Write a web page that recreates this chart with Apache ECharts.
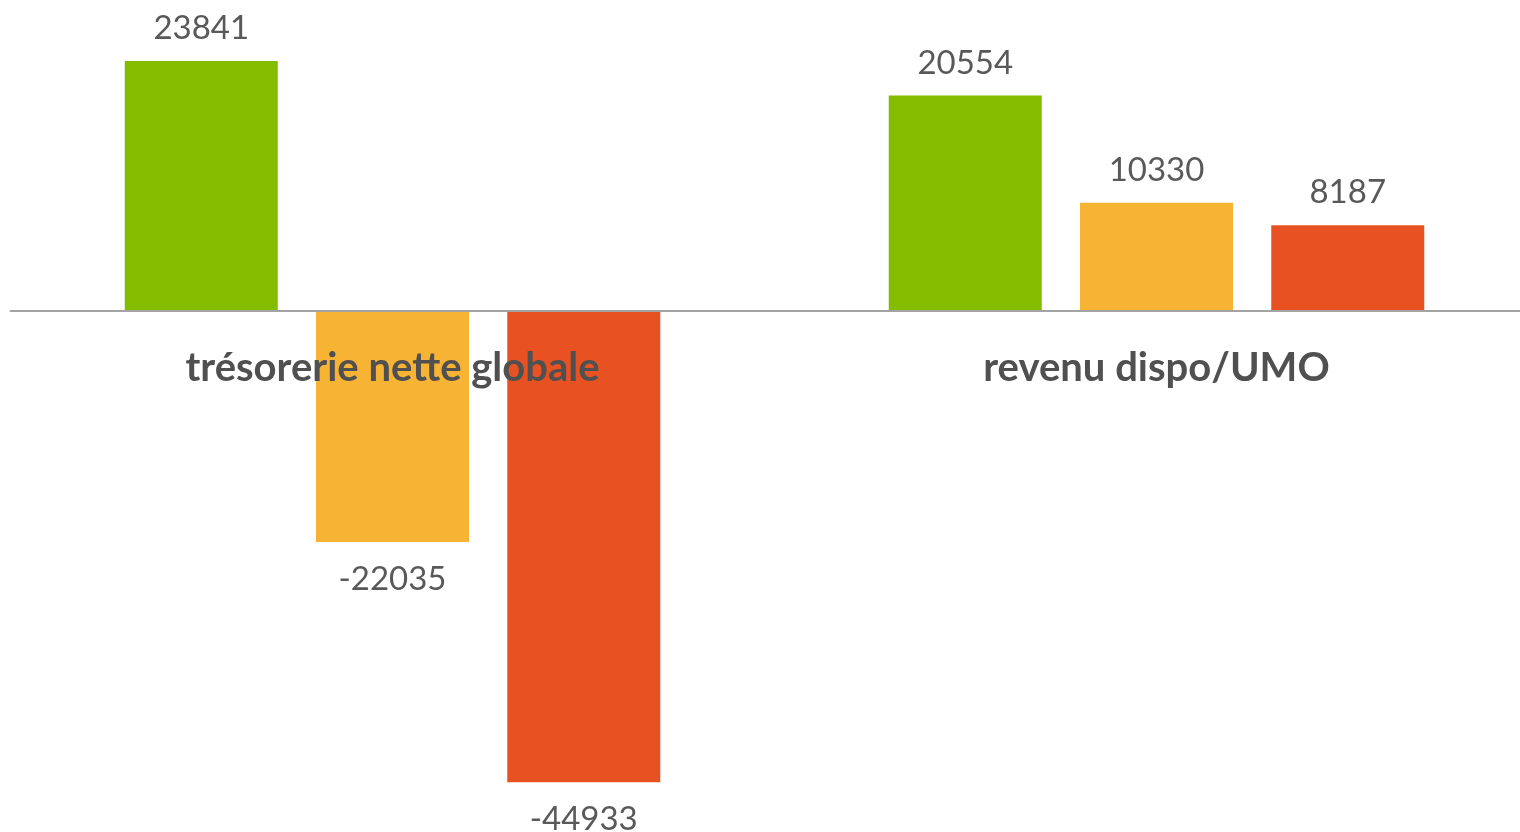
<!DOCTYPE html>
<html>
<head>
<meta charset="utf-8">
<script src="https://cdn.jsdelivr.net/npm/echarts@6/dist/echarts.min.js"></script>
<style>
  html, body { margin: 0; padding: 0; background: #fff; }
  #chart { width: 1520px; height: 832px; }
</style>
</head>
<body>
<div id="chart"></div>
<script>
// categories and values
const categories = ['trésorerie nette globale', 'revenu dispo/UMO'];
const serieA = [23841, 20554];
const serieB = [-22035, 10330];
const serieC = [-44933, 8187];
const colors = ['#84BD00', '#F7B334', '#E85223'];

const chart = echarts.init(document.getElementById('chart'));

// negative values get their label under the bar
const mkData = (vals) => vals.map(v => ({
    value: v,
    label: v < 0 ? { position: 'bottom', distance: 21 } : { position: 'top', distance: 16 }
}));

const mkSeries = (vals, i) => ({
    type: 'bar',
    data: mkData(vals),
    barWidth: 153,
    barGap: '25%',
    itemStyle: { color: colors[i] },
    label: {
        show: true,
        fontFamily: 'Lato',
        fontSize: 33,
        color: '#595959'
    }
});

// grid: zero line at y=311, bottom of grid at 832-17.7
const gridBottom = 17.7;
const zeroY = 311;

chart.setOption({
    animation: false,
    grid: { left: 10.5, right: -18.5, top: 38.4, bottom: gridBottom, containLabel: false, outerBoundsMode: 'none' },
    xAxis: {
        type: 'category',
        data: categories,
        z: 10,
        offset: -(832 - gridBottom - zeroY),
        axisTick: { show: false },
        axisLine: { onZero: false, lineStyle: { color: '#A3A3A3', width: 2 } },
        axisLabel: {
            margin: 39,
            fontFamily: 'Lato',
            fontWeight: 'bold',
            fontSize: 40,
            lineHeight: 36,
            color: '#505050'
        }
    },
    yAxis: {
        type: 'value',
        min: -48000,
        max: 26000,
        show: false,
        splitLine: { show: false }
    },
    series: [mkSeries(serieA, 0), mkSeries(serieB, 1), mkSeries(serieC, 2)]
});
</script>
</body>
</html>
